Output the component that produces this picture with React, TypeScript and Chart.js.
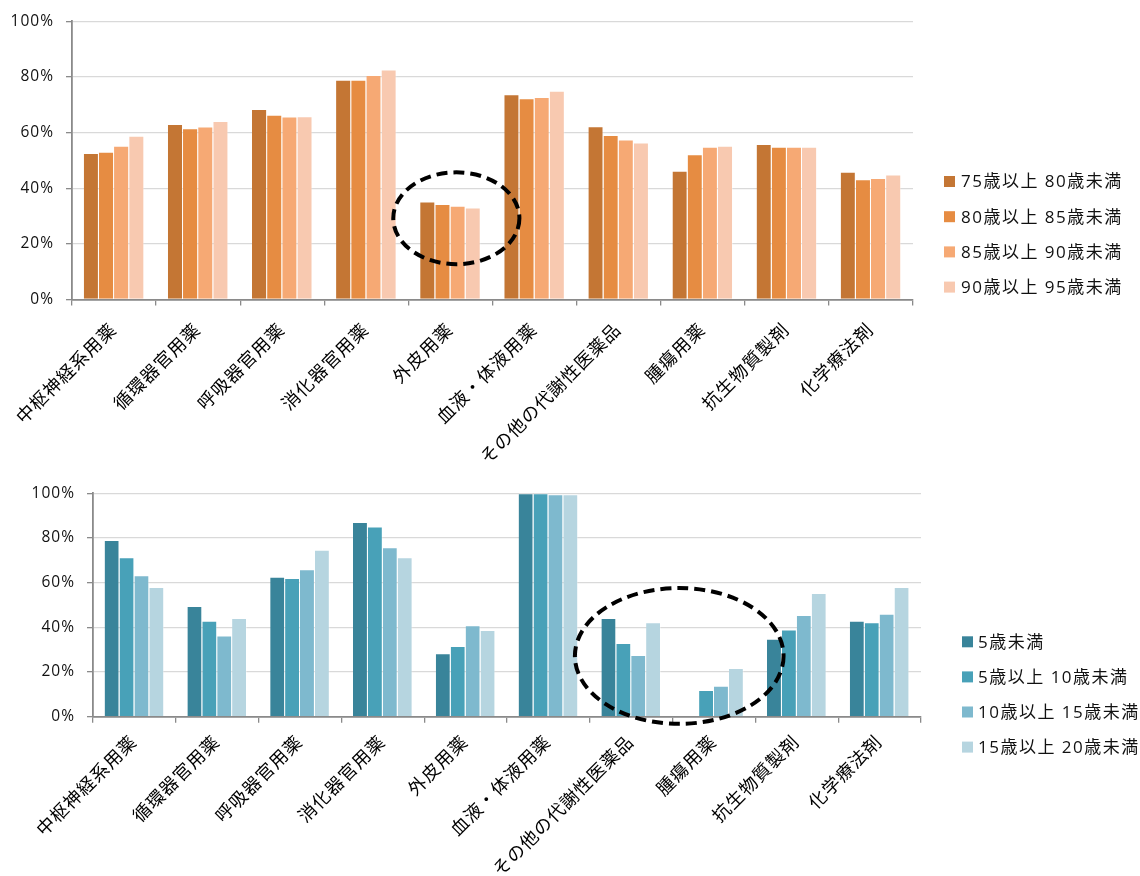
import React, { useEffect, useRef } from "react";
import { Chart, registerables } from "chart.js";

Chart.register(...registerables);

// 薬効分類
const categories = [
  "中枢神経系用薬",
  "循環器官用薬",
  "呼吸器官用薬",
  "消化器官用薬",
  "外皮用薬",
  "血液・体液用薬",
  "その他の代謝性医薬品",
  "腫瘍用薬",
  "抗生物質製剤",
  "化学療法剤",
];

// 高齢者の年齢階級別（%）
const elderlyLabels = ["75歳以上 80歳未満", "80歳以上 85歳未満", "85歳以上 90歳未満", "90歳以上 95歳未満"];
const elderly75to80 = [52.7, 63.1, 68.5, 79.0, 35.2, 73.8, 62.3, 46.3, 55.9, 45.9];
const elderly80to85 = [53.1, 61.6, 66.4, 79.0, 34.3, 72.3, 59.1, 52.2, 54.9, 43.2];
const elderly85to90 = [55.3, 62.2, 65.8, 80.7, 33.7, 72.8, 57.5, 54.9, 54.9, 43.7];
const elderly90to95 = [58.9, 64.2, 65.9, 82.7, 33.1, 75.0, 56.4, 55.3, 54.9, 44.9];
const elderlyColors = ["#C47634", "#E68C42", "#F6A974", "#F8C9B0"];

// 小児の年齢階級別（%）
const childLabels = ["5歳未満", "5歳以上 10歳未満", "10歳以上 15歳未満", "15歳以上 20歳未満"];
const childUnder5 = [79.1, 49.6, 62.7, 87.2, 28.4, 100, 44.2, null, 34.9, 42.9];
const child5to10 = [71.4, 42.9, 62.1, 85.1, 31.7, 100, 33.0, 12.0, 39.0, 42.3];
const child10to15 = [63.3, 36.3, 66.0, 75.9, 40.9, 99.6, 27.6, 13.9, 45.5, 46.1];
const child15to20 = [58.1, 44.2, 74.7, 71.4, 38.8, 99.6, 42.3, 21.8, 55.4, 58.1];
const childColors = ["#39849A", "#48A1B8", "#7EB9CE", "#B6D5E0"];

// 縦軸目盛（%）
const yTicks = [0, 20, 40, 60, 80, 100];

// 注目箇所の破線楕円（中心は分類インデックスと%、半径は分類幅と%）
const elderlyHighlight = { center: 4.07, value: 29.2, halfWidth: 0.75, halfHeight: 16.5 };
const childHighlight = { center: 6.58, value: 27.2, halfWidth: 1.26, halfHeight: 30.4 };

const LABEL_FONT = "'Open Sans', 'Noto Sans CJK JP', sans-serif";

const overlayPlugin = {
  id: "overlay",
  beforeDraw(chart: any) {
    // 和文ラベルの字間を少し広げる
    (chart.ctx as any).letterSpacing = "1px";
  },
  afterDraw(chart: any, _args: any, opts: any) {
    const ctx: CanvasRenderingContext2D = chart.ctx;
    (ctx as any).letterSpacing = "0px";
    const xs = chart.scales.x;
    const ys = chart.scales.y;

    // 破線の楕円
    const e = opts.ellipse;
    if (e) {
      const step = xs.getPixelForValue(1) - xs.getPixelForValue(0);
      const cx = xs.getPixelForValue(e.center);
      const cy = ys.getPixelForValue(e.value);
      const rx = e.halfWidth * step;
      const ry = Math.abs(ys.getPixelForValue(0) - ys.getPixelForValue(e.halfHeight));
      ctx.save();
      ctx.beginPath();
      ctx.setLineDash([11, 6]);
      ctx.lineWidth = 4;
      ctx.strokeStyle = "#000";
      ctx.ellipse(cx, cy, rx, ry, 0, 0, Math.PI * 2);
      ctx.stroke();
      ctx.restore();
    }

    // 凡例
    const lg = opts.legend;
    if (lg) {
      ctx.save();
      (ctx as any).letterSpacing = "1.5px";
      ctx.font = `17px ${LABEL_FONT}`;
      ctx.textBaseline = "middle";
      ctx.textAlign = "left";
      chart.data.datasets.forEach((ds: any, i: number) => {
        const cy = lg.y + i * lg.step;
        ctx.fillStyle = ds.backgroundColor;
        ctx.fillRect(lg.x, cy - 5.5, 11, 11);
        ctx.fillStyle = "#111";
        ctx.fillText(ds.label, lg.textX, cy + 1);
      });
      (ctx as any).letterSpacing = "0px";
      ctx.restore();
    }
  },
};

type PanelProps = {
  top: number;
  height: number;
  labelGap: number;
  seriesLabels: string[];
  series: (number | null)[][];
  colors: string[];
  area: { left: number; right: number; top: number; bottom: number };
  legend: { x: number; textX: number; y: number; step: number };
  ellipse: { center: number; value: number; halfWidth: number; halfHeight: number };
};

function BarPanel(props: PanelProps) {
  const ref = useRef<HTMLCanvasElement | null>(null);

  useEffect(() => {
    if (!ref.current) return;
    const { area, height } = props;
    const chart = new Chart(ref.current, {
      type: "bar",
      data: {
        labels: categories,
        datasets: props.series.map((values, i) => ({
          label: props.seriesLabels[i],
          data: values,
          backgroundColor: props.colors[i],
          borderColor: "rgba(255,255,255,0.35)",
          borderWidth: { top: 1, right: 1, left: 0, bottom: 0 },
          borderSkipped: "bottom",
          categoryPercentage: 0.72,
          barPercentage: 1.0,
        })),
      },
      options: {
        responsive: false,
        animation: false,
        devicePixelRatio: 1,
        layout: {
          padding: { left: 0, top: area.top, right: 1140 - area.right, bottom: 0 },
        },
        plugins: {
          legend: { display: false },
          tooltip: { enabled: false },
          overlay: { ellipse: props.ellipse, legend: props.legend },
        } as any,
        scales: {
          x: {
            grid: {
              display: true,
              drawOnChartArea: false,
              offset: true,
              tickLength: 6,
              color: "#8A8A8A",
              lineWidth: 1.3,
            },
            border: { display: true, color: "#8A8A8A", width: 1.8 },
            ticks: {
              autoSkip: false,
              minRotation: 45,
              maxRotation: 45,
              padding: props.labelGap,
              color: "#000",
              font: { family: LABEL_FONT, size: 18 },
            },
            afterFit: (s: any) => {
              s.height = height - area.bottom;
            },
          },
          y: {
            min: 0,
            max: 100,
            afterBuildTicks: (s: any) => {
              s.ticks = yTicks.map((v) => ({ value: v }));
            },
            grid: {
              color: "#D9D9D9",
              lineWidth: 1.3,
              tickLength: 6,
              tickColor: "#8A8A8A",
            },
            border: { display: true, color: "#8A8A8A", width: 1.8 },
            ticks: {
              padding: 12,
              color: "#111",
              font: { family: LABEL_FONT, size: 15.5 },
              callback: (v: any) => `${v}%`,
            },
            afterFit: (s: any) => {
              s.width = area.left;
            },
          },
        },
      },
      plugins: [overlayPlugin],
    });
    return () => chart.destroy();
  }, []);

  return (
    <canvas
      ref={ref}
      width={1140}
      height={props.height}
      style={{ position: "absolute", left: 0, top: props.top, width: 1140, height: props.height }}
    />
  );
}

export default function App() {
  return (
    <div style={{ position: "absolute", left: 0, top: 0, width: 1140, height: 876, background: "#fff" }}>
      <BarPanel
        top={0}
        height={470}
        labelGap={14}
        seriesLabels={elderlyLabels}
        series={[elderly75to80, elderly80to85, elderly85to90, elderly90to95]}
        colors={elderlyColors}
        area={{ left: 72, right: 913, top: 20.5, bottom: 299.5 }}
        legend={{ x: 944, textX: 961, y: 181.5, step: 35.2 }}
        ellipse={elderlyHighlight}
      />
      <BarPanel
        top={470}
        height={406}
        labelGap={9}
        seriesLabels={childLabels}
        series={[childUnder5, child5to10, child10to15, child15to20]}
        colors={childColors}
        area={{ left: 93, right: 921, top: 23.3, bottom: 246.7 }}
        legend={{ x: 962, textX: 978, y: 171.8, step: 35.1 }}
        ellipse={childHighlight}
      />
    </div>
  );
}
